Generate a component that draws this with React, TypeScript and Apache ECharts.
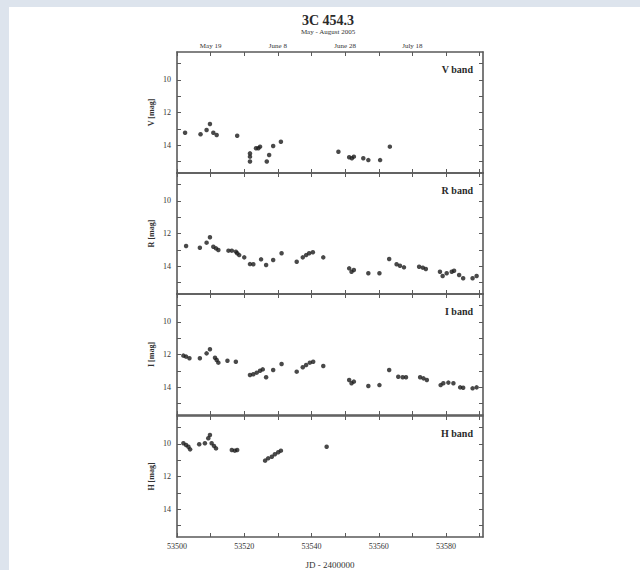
import React, { useEffect, useRef } from "react";
import * as echarts from "echarts";

// ---- Data (JD - 2400000, magnitude) ----
const vJD = [53502.4, 53507.0, 53508.8, 53509.8, 53510.8, 53511.8, 53517.9, 53521.7, 53521.7, 53521.7, 53523.5, 53524.2, 53524.7, 53526.7, 53527.4, 53528.6, 53530.9, 53548.0, 53551.2, 53552.0, 53552.6, 53555.4, 53556.9, 53560.4, 53563.3];
const vMag = [13.24, 13.33, 13.07, 12.70, 13.24, 13.38, 13.42, 14.50, 14.70, 15.0, 14.19, 14.19, 14.09, 15.0, 14.60, 14.05, 13.79, 14.40, 14.74, 14.80, 14.70, 14.80, 14.91, 14.91, 14.09];

const rJD = [53502.7, 53506.8, 53508.8, 53509.8, 53510.8, 53511.6, 53512.3, 53515.3, 53516.3, 53517.5, 53517.9, 53518.5, 53520.0, 53521.7, 53522.7, 53525.0, 53526.5, 53528.6, 53531.1, 53535.6, 53537.4, 53538.4, 53539.3, 53540.4, 53543.5, 53551.2, 53551.9, 53552.6, 53556.9, 53560.2, 53563.1, 53565.3, 53566.3, 53567.5, 53572.0, 53573.1, 53574.0, 53578.2, 53579.0, 53580.2, 53581.7, 53582.4, 53583.9, 53585.1, 53587.9, 53589.1];
const rMag = [12.76, 12.87, 12.56, 12.23, 12.81, 12.91, 13.01, 13.05, 13.05, 13.11, 13.21, 13.32, 13.46, 13.87, 13.88, 13.58, 13.93, 13.62, 13.21, 13.73, 13.46, 13.32, 13.21, 13.15, 13.46, 14.13, 14.34, 14.23, 14.43, 14.43, 13.56, 13.88, 13.97, 14.07, 14.03, 14.09, 14.17, 14.34, 14.60, 14.43, 14.34, 14.28, 14.54, 14.74, 14.74, 14.60];

const iJD = [53501.9, 53502.7, 53503.7, 53506.8, 53508.8, 53509.8, 53511.3, 53511.8, 53512.3, 53515.0, 53517.5, 53521.7, 53522.7, 53523.7, 53524.7, 53525.5, 53526.5, 53528.6, 53531.1, 53535.6, 53537.4, 53538.4, 53539.5, 53540.5, 53543.5, 53551.2, 53551.9, 53552.6, 53556.9, 53560.2, 53563.1, 53565.8, 53567.1, 53568.1, 53572.3, 53573.3, 53574.3, 53578.4, 53579.2, 53580.7, 53582.2, 53584.2, 53585.1, 53587.9, 53589.1];
const iMag = [12.07, 12.13, 12.23, 12.23, 11.93, 11.68, 12.20, 12.34, 12.50, 12.38, 12.44, 13.25, 13.21, 13.11, 12.99, 12.91, 13.39, 12.95, 12.58, 13.05, 12.78, 12.64, 12.50, 12.44, 12.70, 13.56, 13.76, 13.66, 13.93, 13.87, 12.95, 13.36, 13.39, 13.39, 13.39, 13.46, 13.56, 13.87, 13.76, 13.72, 13.76, 14.01, 14.03, 14.07, 14.01];

const hJD = [53501.9, 53502.7, 53503.4, 53503.9, 53506.6, 53508.3, 53509.3, 53509.8, 53510.3, 53511.0, 53511.6, 53516.3, 53517.2, 53517.9, 53526.2, 53527.1, 53528.2, 53529.1, 53530.1, 53530.9, 53544.5];
const hMag = [9.97, 10.07, 10.18, 10.34, 10.03, 9.97, 9.66, 9.46, 9.97, 10.13, 10.28, 10.38, 10.42, 10.38, 11.03, 10.89, 10.79, 10.64, 10.52, 10.42, 10.18];

const bands = ["V band", "R band", "I band", "H band"];
const yNames = ["V [mag]", "R [mag]", "I [mag]", "H [mag]"];
const xTickValues = [53500, 53510, 53520, 53530, 53540, 53550, 53560, 53570, 53580, 53590];
const xLabelValues = [53500, 53520, 53540, 53560, 53580];
const yTickValues = [9, 10, 11, 12, 13, 14, 15];
const yLabelValues = [10, 12, 14];
const dateTickValues = [53510, 53530, 53550, 53570];
const dateLabels = ["May 19", "June 8", "June 28", "July 18"];
const titleText = "3C 454.3";
const subtitleText = "May - August 2005";
const xName = "JD - 2400000";

const FONT = "Liberation Serif";
const FRAME = "#5a5a5a";
const TEXT = "#333333";

export default function App() {
  const ref = useRef<HTMLDivElement>(null);

  useEffect(() => {
    if (!ref.current) return;
    const chart = echarts.init(ref.current, undefined, { renderer: "svg" });

    const sets = [
      [vJD, vMag],
      [rJD, rMag],
      [iJD, iMag],
      [hJD, hMag],
    ];
    const tops = [52, 173, 294, 416];
    const grids = tops.map((t) => ({ left: 177, top: t, width: 306, height: 121 }));

    const xAxis: any[] = [];
    const yAxis: any[] = [];
    const series: any[] = [];
    const graphic: any[] = [
      { type: "rect", shape: { x: 0, y: 0, width: 640, height: 7 }, style: { fill: "#dde4ed" }, silent: true },
      { type: "rect", shape: { x: 0, y: 0, width: 9, height: 570 }, style: { fill: "#dde4ed" }, silent: true },
    ];

    tops.forEach((t, i) => {
      const isLast = i === 3;
      xAxis.push({
        type: "value",
        gridIndex: i,
        position: "bottom",
        min: 53500,
        max: 53591,
        name: isLast ? xName : "",
        nameLocation: "middle",
        nameGap: 23,
        nameTextStyle: { fontFamily: FONT, fontSize: 9, color: TEXT },
        axisLine: { show: true, lineStyle: { color: FRAME, width: 1.6 } },
        axisTick: { show: true, inside: true, length: 4, customValues: xTickValues, lineStyle: { color: FRAME } },
        axisLabel: {
          show: isLast,
          customValues: xLabelValues,
          formatter: (v: number) => String(Math.round(v)),
          fontFamily: FONT,
          fontSize: 8,
          color: TEXT,
          margin: 5,
        },
        splitLine: { show: false },
      });
      xAxis.push({
        type: "value",
        gridIndex: i,
        position: "top",
        min: 53500,
        max: 53591,
        axisLine: { show: true, lineStyle: { color: FRAME, width: 1.6 } },
        axisTick: { show: true, inside: true, length: 4, customValues: xTickValues, lineStyle: { color: FRAME } },
        axisLabel: {
          show: i === 0,
          customValues: dateTickValues,
          formatter: (v: number) => {
            const k = dateTickValues.indexOf(Math.round(v));
            return k >= 0 ? dateLabels[k] : "";
          },
          fontFamily: FONT,
          fontSize: 7,
          color: TEXT,
          margin: 3,
        },
        splitLine: { show: false },
      });
      yAxis.push({
        type: "value",
        gridIndex: i,
        position: "left",
        inverse: true,
        min: 8.3,
        max: 15.7,
        name: yNames[i],
        nameLocation: "middle",
        nameGap: 22,
        nameRotate: 90,
        nameTextStyle: { fontFamily: FONT, fontSize: 8, color: TEXT, fontWeight: "bold" },
        axisLine: { show: true, lineStyle: { color: FRAME, width: 1.6 } },
        axisTick: { show: true, inside: true, length: 4, customValues: yTickValues, lineStyle: { color: FRAME } },
        axisLabel: {
          customValues: yLabelValues,
          formatter: (v: number) => String(Math.round(v)),
          fontFamily: FONT,
          fontSize: 8,
          color: TEXT,
          margin: 6,
        },
        splitLine: { show: false },
      });
      yAxis.push({
        type: "value",
        gridIndex: i,
        position: "right",
        inverse: true,
        min: 8.3,
        max: 15.7,
        axisLine: { show: true, lineStyle: { color: FRAME, width: 1.6 } },
        axisTick: { show: true, inside: true, length: 4, customValues: yTickValues, lineStyle: { color: FRAME } },
        axisLabel: { show: false },
        splitLine: { show: false },
      });

      const [xs, ys] = sets[i];
      series.push({
        type: "scatter",
        xAxisIndex: 2 * i,
        yAxisIndex: 2 * i,
        symbol: "circle",
        symbolSize: 4.5,
        itemStyle: { color: "#1c1c1c" },
        data: xs.map((x, k) => [x, ys[k]]),
      });

      graphic.push({
        type: "text",
        x: 473,
        y: t + 17,
        style: {
          text: bands[i],
          fontFamily: FONT,
          fontSize: 10,
          fontWeight: "bold",
          fill: "#2a2a2a",
          align: "right",
          verticalAlign: "middle",
        },
      });
    });

    graphic.push({
      type: "text",
      x: 328,
      y: 20,
      style: {
        text: titleText,
        fontFamily: FONT,
        fontSize: 14,
        fontWeight: "bold",
        fill: "#2a2a2a",
        align: "center",
        verticalAlign: "middle",
      },
    });
    graphic.push({
      type: "text",
      x: 328,
      y: 32,
      style: {
        text: subtitleText,
        fontFamily: FONT,
        fontSize: 7,
        fill: TEXT,
        align: "center",
        verticalAlign: "middle",
      },
    });

    chart.setOption({
      animation: false,
      backgroundColor: "#ffffff",
      textStyle: { fontFamily: FONT, color: TEXT },
      grid: grids,
      xAxis,
      yAxis,
      series,
      graphic,
    });

    return () => chart.dispose();
  }, []);

  return (
    <div
      ref={ref}
      style={{ position: "absolute", left: 0, top: 0, width: 640, height: 570, background: "#fff" }}
    />
  );
}
